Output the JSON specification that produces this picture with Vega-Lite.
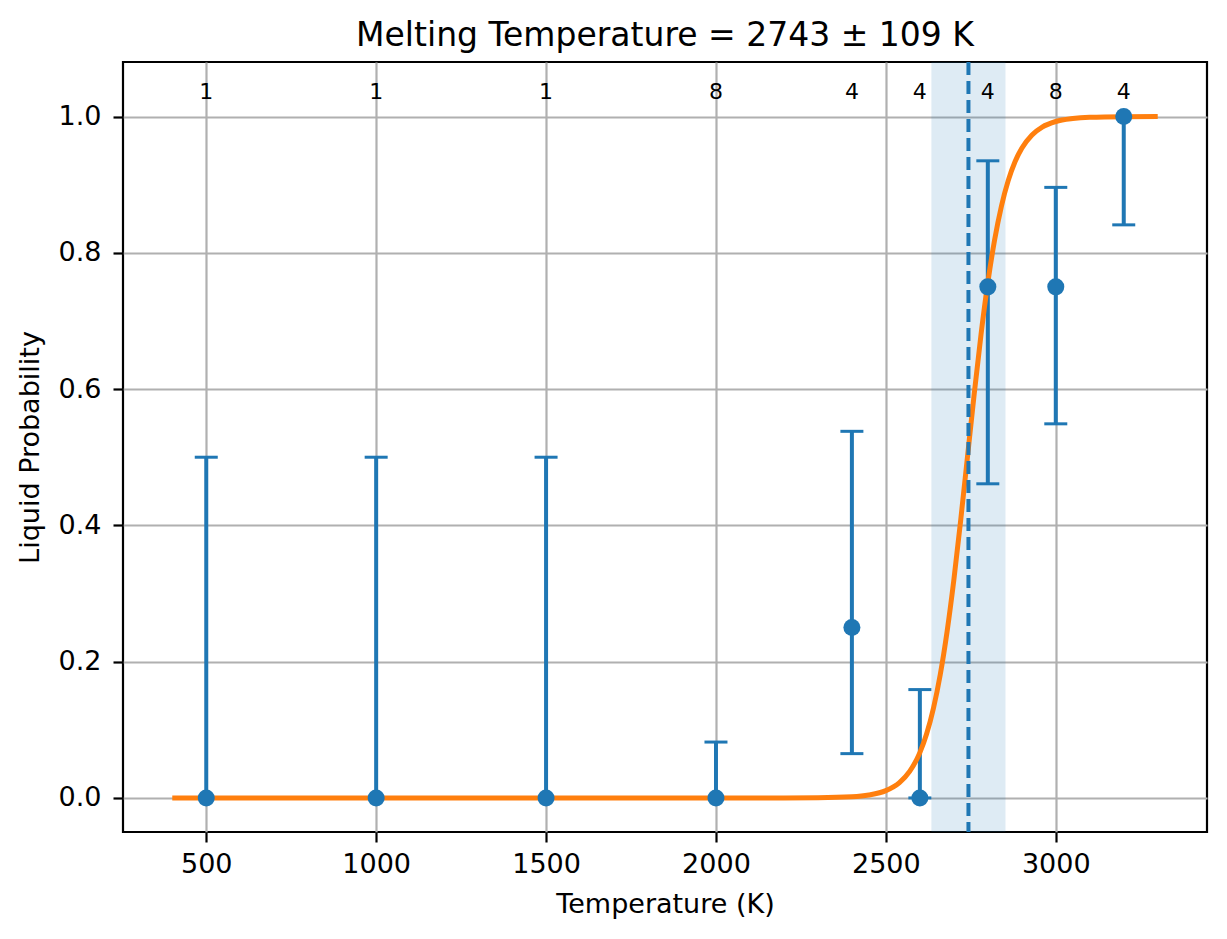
{
  "$schema": "https://vega.github.io/schema/vega-lite/v6.json",
  "width": 1084,
  "height": 770,
  "autosize": {"type": "none"},
  "padding": {"left": 123, "top": 62, "right": 20, "bottom": 107},
  "background": "white",
  "title": {
    "text": "Melting Temperature = 2743 ± 109 K",
    "font": "DejaVu Sans",
    "fontSize": 33,
    "fontWeight": "normal",
    "color": "black",
    "anchor": "middle",
    "frame": "group",
    "baseline": "bottom",
    "offset": 8,
    "dy": 34
  },
  "config": {
    "view": {"stroke": "black", "strokeWidth": 2.2},
    "axis": {
      "domain": false,
      "grid": true,
      "gridColor": "#b0b0b0",
      "gridWidth": 2.2,
      "tickColor": "black",
      "tickWidth": 2.2,
      "tickSize": 10,
      "labelFont": "DejaVu Sans",
      "labelFontSize": 27,
      "labelColor": "black",
      "titleFont": "DejaVu Sans",
      "titleFontSize": 27,
      "titleFontWeight": "normal",
      "titleColor": "black"
    }
  },
  "datasets": {
    "obs": [
      {"T": 500, "p": 0, "lo": 0, "hi": 0.5, "n": 1},
      {"T": 1000, "p": 0, "lo": 0, "hi": 0.5, "n": 1},
      {"T": 1500, "p": 0, "lo": 0, "hi": 0.5, "n": 1},
      {"T": 2000, "p": 0, "lo": 0, "hi": 0.082, "n": 8},
      {"T": 2400, "p": 0.25, "lo": 0.065, "hi": 0.538, "n": 4},
      {"T": 2600, "p": 0, "lo": 0, "hi": 0.159, "n": 4},
      {"T": 2800, "p": 0.75, "lo": 0.461, "hi": 0.935, "n": 4},
      {"T": 3000, "p": 0.75, "lo": 0.549, "hi": 0.896, "n": 8},
      {"T": 3200, "p": 1, "lo": 0.841, "hi": 1, "n": 4}
    ],
    "curve": [
      {"T": 400, "p": 0},
      {"T": 1000, "p": 0},
      {"T": 1500, "p": 0},
      {"T": 2000, "p": 0},
      {"T": 2200, "p": 0.00004},
      {"T": 2300, "p": 0.00025},
      {"T": 2400, "p": 0.0016},
      {"T": 2450, "p": 0.0042},
      {"T": 2500, "p": 0.0107},
      {"T": 2540, "p": 0.0225},
      {"T": 2570, "p": 0.0389},
      {"T": 2600, "p": 0.0665},
      {"T": 2620, "p": 0.0941},
      {"T": 2640, "p": 0.1316},
      {"T": 2660, "p": 0.181},
      {"T": 2680, "p": 0.2438},
      {"T": 2700, "p": 0.3198},
      {"T": 2720, "p": 0.4068},
      {"T": 2740, "p": 0.5},
      {"T": 2760, "p": 0.5932},
      {"T": 2780, "p": 0.6802},
      {"T": 2800, "p": 0.7562},
      {"T": 2820, "p": 0.819},
      {"T": 2840, "p": 0.8684},
      {"T": 2860, "p": 0.9059},
      {"T": 2880, "p": 0.9335},
      {"T": 2900, "p": 0.9535},
      {"T": 2930, "p": 0.973},
      {"T": 2960, "p": 0.9845},
      {"T": 3000, "p": 0.9927},
      {"T": 3050, "p": 0.9971},
      {"T": 3100, "p": 0.9989},
      {"T": 3200, "p": 0.9998},
      {"T": 3300, "p": 1}
    ],
    "fit": [
      {"Tm": 2743, "lo": 2634, "hi": 2852}
    ]
  },
  "layer": [
    {
      "data": {"name": "fit"},
      "mark": {"type": "rect", "color": "#1f77b4", "opacity": 0.15},
      "encoding": {
        "x": {"field": "lo", "type": "quantitative", "scale": {"domain": [255, 3445], "nice": false, "zero": false}},
        "x2": {"field": "hi"}
      }
    },
    {
      "data": {"name": "obs"},
      "mark": {"type": "rule", "color": "#1f77b4", "strokeWidth": 4},
      "encoding": {
        "x": {
          "field": "T",
          "type": "quantitative",
          "title": "Temperature (K)",
          "scale": {"domain": [255, 3445], "nice": false, "zero": false},
          "axis": {"values": [500, 1000, 1500, 2000, 2500, 3000], "format": "d", "labelPadding": 9, "titlePadding": 14}
        },
        "y": {
          "field": "lo",
          "type": "quantitative",
          "title": "Liquid Probability",
          "scale": {"domain": [-0.05, 1.08], "nice": false, "zero": false},
          "axis": {"values": [0, 0.2, 0.4, 0.6, 0.8, 1.0], "format": ".1f", "labelPadding": 12, "titlePadding": 14}
        },
        "y2": {"field": "hi"}
      }
    },
    {
      "data": {"name": "obs"},
      "mark": {"type": "tick", "orient": "horizontal", "color": "#1f77b4", "opacity": 1, "size": 23, "thickness": 3},
      "encoding": {
        "x": {"field": "T", "type": "quantitative"},
        "y": {"field": "hi", "type": "quantitative"}
      }
    },
    {
      "data": {"name": "obs"},
      "mark": {"type": "tick", "orient": "horizontal", "color": "#1f77b4", "opacity": 1, "size": 23, "thickness": 3},
      "encoding": {
        "x": {"field": "T", "type": "quantitative"},
        "y": {"field": "lo", "type": "quantitative"}
      }
    },
    {
      "data": {"name": "curve"},
      "mark": {"type": "line", "color": "#ff7f0e", "strokeWidth": 5, "interpolate": "monotone"},
      "encoding": {
        "x": {"field": "T", "type": "quantitative"},
        "y": {"field": "p", "type": "quantitative"}
      }
    },
    {
      "data": {"name": "fit"},
      "mark": {"type": "rule", "color": "#1f77b4", "strokeWidth": 4, "strokeDash": [13, 6]},
      "encoding": {
        "x": {"field": "Tm", "type": "quantitative"}
      }
    },
    {
      "data": {"name": "obs"},
      "mark": {"type": "circle", "color": "#1f77b4", "opacity": 1, "size": 290},
      "encoding": {
        "x": {"field": "T", "type": "quantitative"},
        "y": {"field": "p", "type": "quantitative"}
      }
    },
    {
      "data": {"name": "obs"},
      "mark": {"type": "text", "font": "DejaVu Sans", "fontSize": 22, "color": "black", "align": "center", "baseline": "alphabetic"},
      "encoding": {
        "x": {"field": "T", "type": "quantitative"},
        "y": {"datum": 1.025, "type": "quantitative"},
        "text": {"field": "n", "type": "nominal"}
      }
    }
  ]
}
